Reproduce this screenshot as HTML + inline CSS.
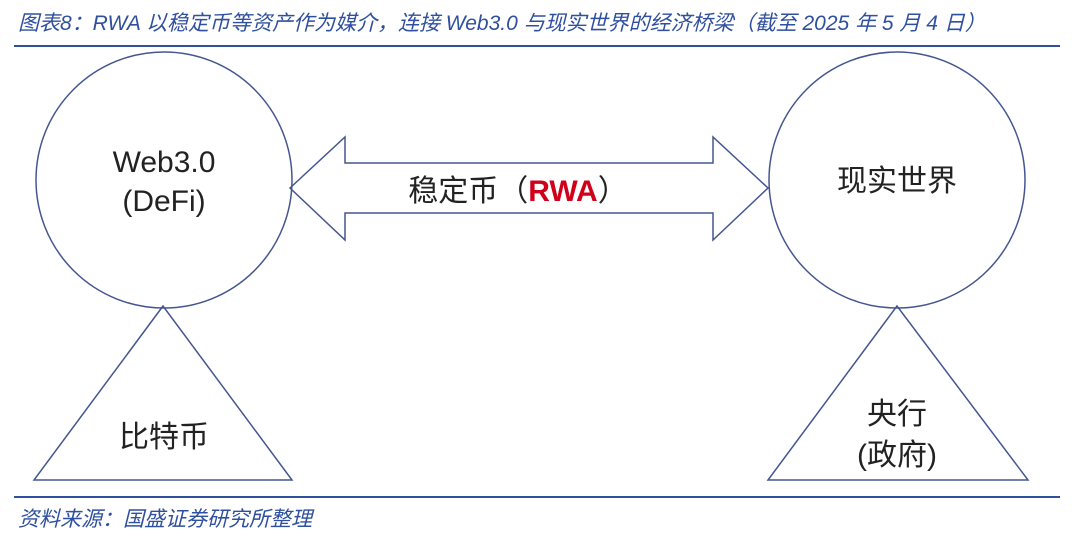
<!DOCTYPE html>
<html><head><meta charset="utf-8"><style>
body{margin:0;width:1080px;height:539px;background:#fff;overflow:hidden;font-family:"Liberation Sans","Noto Sans CJK SC",sans-serif;}
.t{position:absolute;left:18px;top:7px;font-size:21px;color:#2f4f9f;font-style:italic;white-space:nowrap;}
.s{position:absolute;left:18px;top:503px;font-size:21px;color:#2f4f9f;font-style:italic;white-space:nowrap;}
.l{position:absolute;left:14px;width:1046px;height:2px;background:#2f4f9f;}
</style></head><body>
<div class="t">图表8：RWA 以稳定币等资产作为媒介，连接 Web3.0 与现实世界的经济桥梁（截至 2025 年 5 月 4 日）</div>
<div class="l" style="top:45px"></div>
<div class="l" style="top:496px"></div>
<div class="s">资料来源：国盛证券研究所整理</div>
<svg width="1080" height="539" style="position:absolute;left:0;top:0" font-family="Liberation Sans, Noto Sans CJK SC, sans-serif" fill="none" stroke="#44568f" stroke-width="1.5">
<circle cx="164" cy="180" r="128"/>
<circle cx="897" cy="180" r="128"/>
<polygon points="163,306 34,480 292,480"/>
<polygon points="897,306 768,480 1028,480"/>
<polygon points="290,188 345,137 345,163 713,163 713,137 768,188 713,240 713,213 345,213 345,240"/>
<g fill="#222" stroke="none" font-size="30" text-anchor="middle">
<text x="164" y="172">Web3.0</text>
<text x="164" y="211">(DeFi)</text>
<text x="518" y="201">稳定币（<tspan fill="#d0021b" font-weight="bold">RWA</tspan>）</text>
<text x="897" y="191">现实世界</text>
<text x="164" y="447">比特币</text>
<text x="897" y="424">央行</text>
<text x="897" y="465">(政府)</text>
</g>
</svg>
</body></html>
